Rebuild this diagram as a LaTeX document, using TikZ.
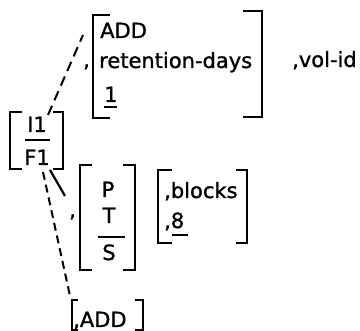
\documentclass[tikz,border=0pt]{standalone}
\usepackage{fontspec}
\setmainfont{DejaVu Sans}
\newfontfamily\scanfont{DejaVu Sans}[FakeBold=1.2]
\begin{document}
\begin{tikzpicture}[x=1pt,y=-1pt,
        txt/.style={anchor=base west,inner sep=0pt,font=\scanfont\fontsize{21}{25}\selectfont},
        ctr/.style={anchor=base,inner sep=0pt,font=\scanfont\fontsize{21}{25}\selectfont},
        brk/.style={line width=2.2pt},
        bar/.style={line width=2.2pt},
        dsh/.style={line width=2pt,dash pattern=on 10pt off 6pt}]
        \useasboundingbox (0,0) rectangle (360,331);
        % I1 / F1
        \draw[brk] (22,112) -- (10,112) -- (10,169) -- (22,169);
        \draw[brk] (53,112) -- (63,112) -- (63,169) -- (53,169);
        \node[ctr] (i1) at (37,132) {I1};
        \node[ctr] (f1) at (37,165) {F1};
        \draw[bar] (25,140) -- (50,140);
        % ADD, retention-days, 1
        \draw[brk] (110,15) -- (93,15) -- (93,118) -- (110,118);
        \draw[brk] (243,11) -- (262,11) -- (262,117) -- (243,117);
        \node[txt] (cm1) at (83,67) {,};
        \node[txt] (add1) at (100,38) {ADD};
        \node[txt] (ret) at (99,68) {retention-days};
        \node[txt] (one) at (104,102) {1};
        \draw[bar] (104,107) -- (117,107);
        \node[txt] (vol) at (292,67) {,vol-id};
        % P / T / S
        \draw[brk] (92,165) -- (80,165) -- (80,270) -- (92,270);
        \draw[brk] (123,165) -- (135,165) -- (135,270) -- (123,270);
        \node[txt] (cm2) at (69,217) {,};
        \node[ctr] (p) at (108,197) {P};
        \node[ctr] (t) at (109,223) {T};
        \node[ctr] (s) at (109,260) {S};
        \draw[bar] (98,237) -- (125,237);
        % blocks, 8
        \draw[brk] (172,170) -- (158,170) -- (158,243) -- (172,243);
        \draw[brk] (236,170) -- (247,170) -- (247,243) -- (236,243);
        \node[txt] (blk) at (164,198) {,blocks};
        \node[txt] (eight) at (164,228) {,8};
        \draw[bar] (172,235) -- (188,235);
        % ADD
        \draw[brk] (78,300) -- (72,300) -- (72,330) -- (78,330);
        \draw[brk] (135,300) -- (143,300) -- (143,330) -- (135,330);
        \node[txt] (add2) at (73,327) {,ADD};
        % connectors
        \coordinate (up0) at (48,115);
        \coordinate (up1) at (83,35);
        \coordinate (mid0) at (50,170);
        \coordinate (mid1) at (65,196);
        \coordinate (lo0) at (43,172);
        \coordinate (lo1) at (70,296);
        \draw[dsh] (up0) -- (up1);
        \draw[bar] (mid0) -- (mid1);
        \draw[dsh,dash pattern=on 8pt off 5pt] (lo0) -- (lo1);
\end{tikzpicture}
\end{document}
